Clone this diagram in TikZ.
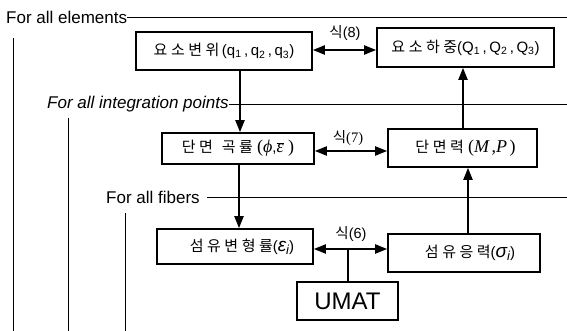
\documentclass[tikz,border=0pt]{standalone}
\usepackage{fontspec}
\setmainfont{Liberation Sans}
\newfontfamily\kr{Noto Sans CJK KR}
\newfontfamily\tms{Liberation Serif}
\usetikzlibrary{arrows.meta}
\newcommand\g{\hspace{3.5pt}}
\newcommand\tmi[1]{{\tms\fontsize{18}{20}\selectfont\itshape #1}}
\newcommand\tmr[1]{{\tms\fontsize{18}{20}\selectfont #1}}
\newcommand\gsub[1]{{\fontsize{19}{20}\selectfont\itshape #1}\raisebox{-3pt}{\fontsize{13}{14}\selectfont\itshape i}}
\begin{document}
\begin{tikzpicture}[x=1pt,y=-1pt,
  every node/.style={font=\fontsize{15}{18}\selectfont, inner sep=0pt},
  box/.style={draw, line width=1.6pt, rectangle},
  arr/.style={line width=2pt, -{Triangle[length=12pt,width=9pt]}},
  darr/.style={line width=2pt, {Triangle[length=12pt,width=9pt]}-{Triangle[length=12pt,width=9pt]}},
  loopline/.style={line width=0.8pt},
  looptext/.style={anchor=west, font=\fontsize{17}{19}\selectfont},
  eqlabel/.style={font=\fontsize{14.5}{17}\selectfont}]
\useasboundingbox (0,0) rectangle (567,331);
% boxes
\node[box, minimum width=176pt, minimum height=38pt] (b1) at (224,51)
  {{\kr 요\g 소\g 변\g 위}\,(q\textsubscript{1}\,,\,q\textsubscript{2}\,,\,q\textsubscript{3})};
\node[box, minimum width=177pt, minimum height=39pt] (b2) at (465.5,47.5)
  {{\kr 요\g 소\g 하\g 중}(Q\textsubscript{1}\,,\,Q\textsubscript{2}\,,\,Q\textsubscript{3})};
\node[box, minimum width=152pt, minimum height=31pt] (b3) at (238,148.5)
  {{\kr 단\g 면\hspace{9pt}곡\g 률}\ \tmr{(}\tmi{ϕ},$\overline{\hbox{\tmi{ε}}}$\tmr{\ )}};
\node[box, minimum width=149pt, minimum height=38pt] (b4) at (462.5,148)
  {\hspace{6pt}{\kr 단\g 면\g 력}\ \tmr{(}\tmi{M}\,\tmr{,}\tmi{P}\,\tmr{)}};
\node[box, minimum width=156pt, minimum height=35pt] (b5) at (235,246.5)
  {\hspace{14pt}{\kr 섬\g 유\g 변\g 형\g 률}(\gsub{ε})};
\node[box, minimum width=152pt, minimum height=38pt] (b6) at (464,253)
  {\hspace{12pt}{\kr 섬\g 유\g 응\g 력}(\gsub{σ})};
\node[box, minimum width=101pt, minimum height=38pt, font=\fontsize{24}{28}\selectfont] (um) at (347.5,301) {UMAT};
% loop labels
\node[looptext] (l1) at (6,17) {For all elements};
\node[looptext, font=\fontsize{17}{19}\selectfont\itshape] (l2) at (47,104) {For all integration points};
\node[looptext] (l3) at (106,197) {For all fibers};
% equation labels
\node[eqlabel] (q8) at (345,33) {{\kr 식}(8)};
\node[eqlabel] (q7) at (348,138) {{\kr 식}{\tms(7)}};
\node[eqlabel] (q6) at (351,234) {{\kr 식}(6)};
% coordinates for columns and free ends
\coordinate (cA) at (240,0);
\coordinate (cB) at (239,0);
\coordinate (cC) at (463,0);
\coordinate (cD) at (468,0);
\coordinate (r8) at (0,50);
\coordinate (r7) at (0,151);
\coordinate (r6) at (0,249);
\coordinate (e1) at (567,17);
\coordinate (e2) at (567,104);
\coordinate (e3) at (567,197);
\coordinate (v1t) at (13,38);  \coordinate (v1b) at (13,331);
\coordinate (v2t) at (68,118); \coordinate (v2b) at (68,331);
\coordinate (v3t) at (125,213);\coordinate (v3b) at (125,331);
\coordinate (s3) at (207,197);
% loop lines
\draw[loopline] (l1.east) -- (e1);
\draw[loopline] (l2.east) -- (e2);
\draw[loopline] (s3) -- (e3);
\draw[loopline] (v1t) -- (v1b);
\draw[loopline] (v2t) -- (v2b);
\draw[loopline] (v3t) -- (v3b);
% vertical arrows
\draw[arr] (b1.south -| cA) -- (b3.north -| cA);
\draw[arr] (b3.south -| cB) -- (b5.north -| cB);
\draw[arr] (b4.north -| cC) -- (b2.south -| cC);
\draw[arr] (b6.north -| cD) -- (b4.south -| cD);
% double arrows
\draw[darr] (b1.east |- r8) -- (b2.west |- r8);
\draw[darr] (b3.east |- r7) -- (b4.west |- r7);
\draw[darr] (b5.east |- r6) -- (b6.west |- r6);
\draw[line width=2pt] (um.north) -- (um.north |- r6);
\end{tikzpicture}
\end{document}
